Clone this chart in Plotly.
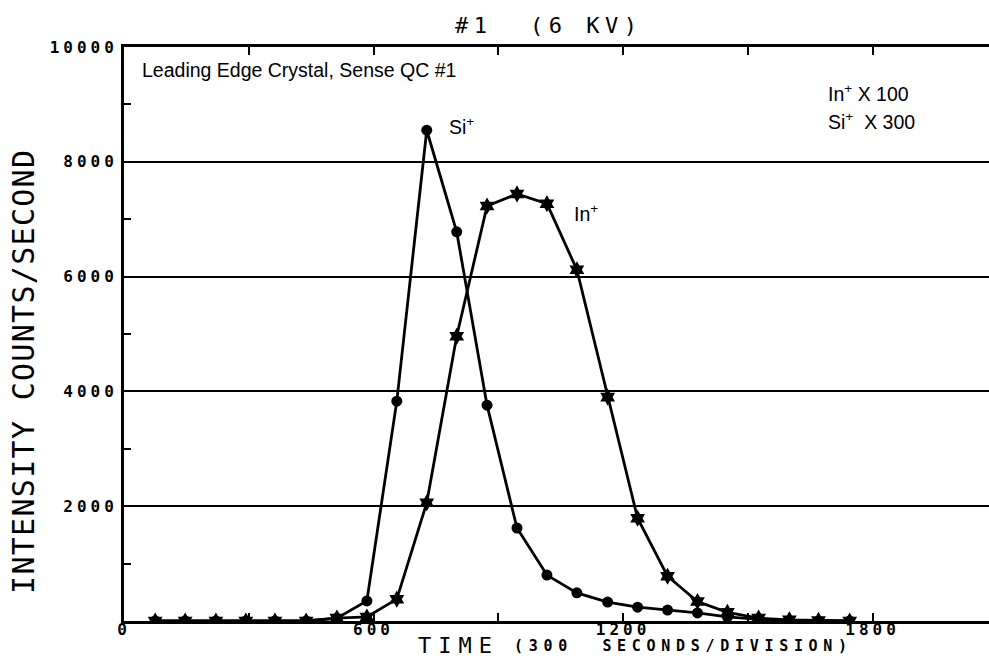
import plotly.graph_objects as go

# Sampling times (seconds) and ion intensities (counts/second, scaled)
time_s = [75, 147, 221, 293, 363, 438, 512, 584, 656, 728, 800, 873,
          945, 1017, 1089, 1163, 1235, 1307, 1379, 1451, 1526, 1600, 1670, 1745]
si_counts = [0, 0, 0, 0, 0, 0, 50, 350, 3830, 8550, 6780, 3760,
             1620, 800, 490, 330, 240, 190, 140, 70, 30, 10, 0, 0]
in_counts = [0, 0, 0, 0, 0, 0, 50, 70, 380, 2060, 4960, 7230,
             7440, 7270, 6120, 3900, 1790, 780, 340, 150, 50, 20, 10, 0]

x_tickvals = [0, 600, 1200, 1800]
x_ticktext = ["0", "600", "1200", "1800"]
y_tickvals = [0, 2000, 4000, 6000, 8000, 10000]
y_ticktext = ["", "2000", "4000", "6000", "8000", "10000"]

MONO = "DejaVu Sans Mono"
SANS = "Liberation Sans, Arial, sans-serif"


def spaced(text, px):
    return f'<span style="letter-spacing:{px}px">{text}</span>'


fig = go.Figure()
fig.add_trace(go.Scatter(
    x=time_s, y=si_counts, mode="lines+markers", name="Si+",
    line=dict(color="black", width=2.8),
    marker=dict(symbol="circle", size=11, color="black"),
))
fig.add_trace(go.Scatter(
    x=time_s, y=in_counts, mode="lines+markers", name="In+",
    line=dict(color="black", width=2.8),
    marker=dict(symbol="hexagram", size=13, color="black"),
))

tick_font = dict(family=MONO, size=16, color="black", weight="bold")

fig.update_xaxes(
    range=[0, 2080], showgrid=False, zeroline=False,
    showline=True, linecolor="black", linewidth=3, mirror="ticks",
    ticks="inside", ticklen=8, tickwidth=2, tickcolor="black",
    tickvals=x_tickvals, ticktext=[spaced(t, 4) for t in x_ticktext],
    tickfont=tick_font, ticklabelstandoff=-8,
    minor=dict(ticks="inside", ticklen=8, tickwidth=2, tickcolor="black",
               tickvals=[300, 900, 1500]),
)
fig.update_yaxes(
    range=[0, 10000], showgrid=True, gridcolor="black", gridwidth=2,
    zeroline=False, showline=True, linecolor="black", linewidth=3,
    ticks="inside", ticklen=7, tickwidth=2, tickcolor="black",
    tickvals=y_tickvals, ticktext=[spaced(t, 4) for t in y_ticktext],
    tickfont=tick_font,
    minor=dict(ticks="inside", ticklen=7, tickwidth=2, tickcolor="black",
               tickvals=[1000, 3000, 5000, 7000, 9000]),
)

annotations = [
    # chart title
    dict(text=spaced("#1\u00a0\u00a0(6\u00a0KV)", 5.5), xref="paper", yref="paper",
         x=0.491, y=1.038, xanchor="center", yanchor="middle", showarrow=False,
         font=dict(family=MONO, size=22, color="black")),
    # axis titles
    dict(text=spaced("INTENSITY\u00a0COUNTS/SECOND", 1.3), xref="paper", yref="paper",
         x=-0.116, y=0.435, textangle=-90, xanchor="center", yanchor="middle",
         showarrow=False, font=dict(family=MONO, size=30, color="black")),
    dict(text=spaced("TIME", 7), xref="paper", yref="paper",
         x=(458 - 124) / 865, y=0, yshift=-38, xanchor="center", yanchor="bottom",
         borderpad=0, showarrow=False, font=dict(family=MONO, size=22, color="black")),
    dict(text=spaced("(300\u00a0\u00a0SECONDS/DIVISION)", 5.7), xref="paper", yref="paper",
         x=(513 - 124) / 865, y=-(646 - 621) / 574, xanchor="left", yanchor="middle",
         borderpad=0, showarrow=False,
         font=dict(family=MONO, size=15, color="black", weight="bold")),
    # in-plot notes
    dict(text="Leading Edge Crystal, Sense QC #1", x=38, y=9600,
         xanchor="left", yanchor="middle", showarrow=False,
         font=dict(family=SANS, size=19.5, color="black")),
    dict(text="In<sup>+</sup> X 100", x=1688, y=9200,
         xanchor="left", yanchor="middle", showarrow=False,
         font=dict(family=SANS, size=19.5, color="black")),
    dict(text="Si<sup>+</sup>\u00a0\u00a0X 300", x=1688, y=8710,
         xanchor="left", yanchor="middle", showarrow=False,
         font=dict(family=SANS, size=19.5, color="black")),
    dict(text="Si<sup>+</sup>", x=776, y=8620,
         xanchor="left", yanchor="middle", showarrow=False,
         font=dict(family=SANS, size=19.5, color="black")),
    dict(text="In<sup>+</sup>", x=1077, y=7110,
         xanchor="left", yanchor="middle", showarrow=False,
         font=dict(family=SANS, size=19.5, color="black")),
]

fig.update_layout(
    width=989, height=659,
    margin=dict(l=124, r=0, t=47, b=38),
    paper_bgcolor="white", plot_bgcolor="white",
    showlegend=False,
    annotations=annotations,
)

fig.write_html("out.html")
